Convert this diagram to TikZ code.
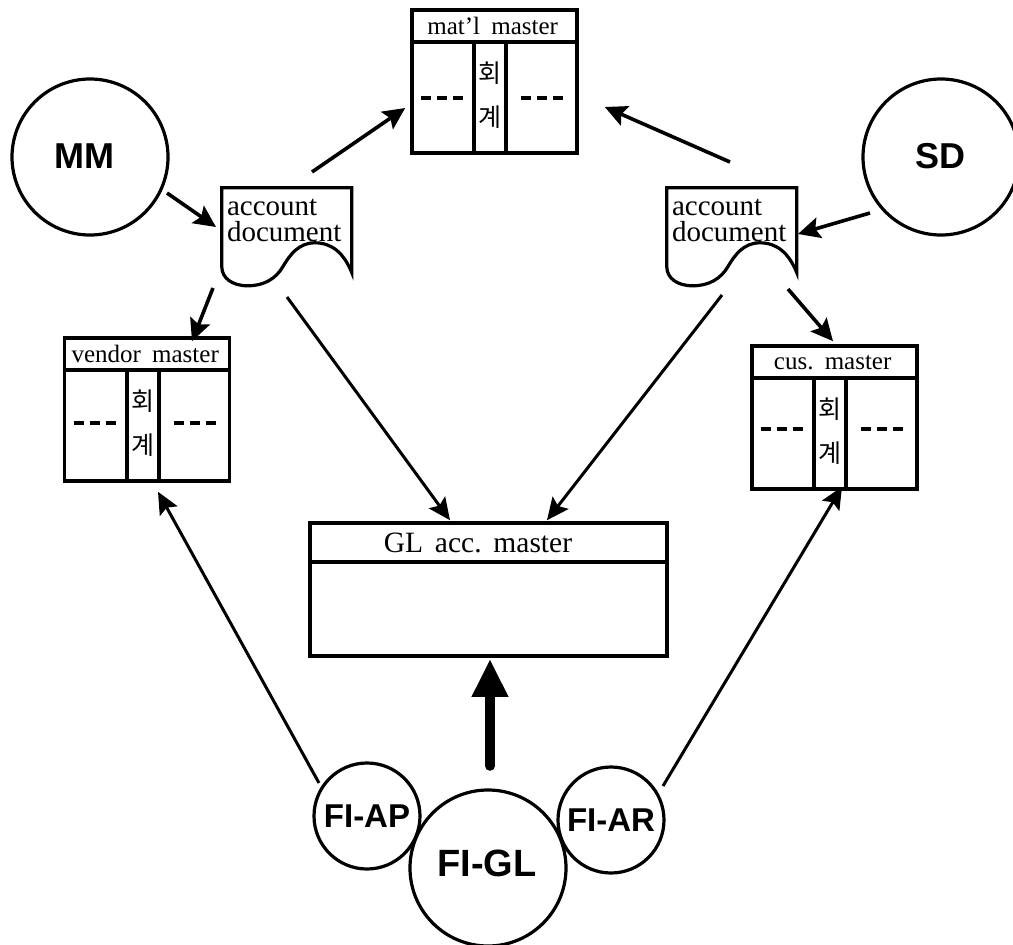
\documentclass[tikz,border=0pt]{standalone}
\usepackage{fontspec}
\setmainfont{Liberation Serif}
\newfontfamily\sansb{Liberation Sans}[BoldFont={Liberation Sans Bold}]
\newfontfamily\korean{Noto Sans CJK KR}
\usetikzlibrary{arrows.meta,calc}
\tikzset{
  masterbox/.style={draw,line width=3.6pt,inner sep=0pt,minimum width=165pt,minimum height=143pt},
  rule/.style={line width=3.6pt},
  dots/.style={line width=4.2pt,dash pattern=on 10pt off 6pt},
  circ/.style={draw,circle,line width=3.2pt,inner sep=0pt,minimum size=#1},
  heavy/.style={line width=3.6pt,-{Stealth[length=22pt,width=21pt,inset=4pt]}},
  light/.style={line width=3pt,-{Stealth[length=22pt,width=20pt,inset=4pt]}},
  title/.style={inner sep=0pt,font=\fontsize{25}{25}\selectfont},
  kor/.style={inner sep=0pt,font=\korean\fontsize{25}{25}\selectfont},
  doctext/.style={inner sep=0pt,align=left,anchor=north west,font=\fontsize{29}{26}\selectfont},
  lab/.style={inner sep=0pt,font=\sansb\bfseries\fontsize{#1}{#1}\selectfont},
}
\newcommand{\mastertable}[5]{% name, cx, cy, title, dy of dashes
  \node[masterbox] (#1) at (#2,#3) {};
  \begin{scope}[shift={(#1.north west)}]
    \draw[rule] (0,34) -- (165,34);
    \draw[rule] (64,34) -- (64,143);
    \draw[rule] (96,34) -- (96,143);
    \draw[dots] (11,#5) -- (53,#5);
    \draw[dots] (111,#5) -- (155,#5);
    \node[title] (#1title) at (82.5,18) {#4};
    \node[kor] (#1a) at (80,65) {회};
    \node[kor] (#1b) at (80,109) {계};
  \end{scope}
}
\newcommand{\docsheet}[3]{% name, cx, cy
  \node[inner sep=0pt,minimum width=130pt,minimum height=100pt] (#1) at (#2,#3) {};
  \begin{scope}[shift={(#1.north west)}]
    \draw[line width=3.2pt,line join=miter]
      (0,0) -- (130,0) -- (130,85)
      .. controls (122,65) and (110,55) .. (93,55)
      .. controls (77,55) and (68,67) .. (61,79)
      .. controls (54,91) and (42,98) .. (26,98)
      .. controls (10,98) and (0,90) .. (0,79) -- cycle;
    \node[doctext] (#1text) at (5,11) {account\\document};
  \end{scope}
}
\begin{document}
\begin{tikzpicture}[x=1pt,y=-1pt]
\useasboundingbox (0,0) rectangle (1013,945);

% circles
\node[circ=156pt] (mm) at (90,157) {};
\node[lab=36] (mmlabel) at (84.5,156) {MM};
\node[circ=156pt] (sd) at (941,157) {};
\node[lab=36] (sdlabel) at (940.5,156) {SD};
\node[circ=106pt,lab=33] (ap) at (367,816) {FI-AP};
\node[circ=106pt,lab=33] (ar) at (611,820) {FI-AR};
\node[circ=156pt,fill=white] (gl) at (488,868) {};
\node[lab=38] (gllabel) at (487,863) {FI-GL};

% master tables
\mastertable{mat}{494.5}{81.5}{mat'l\hspace{0.45em}master}{90}
\mastertable{ven}{147}{409.5}{vendor\hspace{0.45em}master}{87}
\mastertable{cus}{834.5}{417.5}{cus.\hspace{0.45em}master}{85}

% GL master
\node[draw,line width=3.6pt,inner sep=0pt,minimum width=357pt,minimum height=133pt] (glm) at (488.5,589.5) {};
\draw[rule] (glm.north west) ++(0,41) -- ++(357,0);
\node[inner sep=0pt,font=\fontsize{29.5}{29.5}\selectfont] (glmtitle) at (478,543) {GL\hspace{0.4em}acc.\hspace{0.4em}master};

% documents
\docsheet{docl}{287}{238}
\docsheet{docr}{732}{238}

% connectors
\draw[heavy] ($(mm)+(77,36)$) -- ($(docl)+(-71,-11)$);
\draw[heavy] ($(docl)+(25,-66)$) -- ($(mat.west)+(-5,26.5)$);
\draw[heavy] ($(sd)+(-71,56)$) -- ($(docr)+(66,-4)$);
\draw[heavy] ($(docr)+(-2,-76)$) -- ($(mat.east)+(26,25.5)$);
\draw[heavy] ($(docl)+(-74,50)$) -- ($(ven.north)+(45,5)$);
\draw[heavy] ($(docr)+(56,51)$) -- ($(cus.north)+(-1.5,-3)$);
\draw[light] ($(docl)+(0,59)$) -- ($(glm.north)+(-38.5,-1)$);
\draw[light] ($(docr)+(-10,57)$) -- ($(glm.north)+(58.5,-1)$);
\draw[light] ($(ap)+(-48,-33)$) -- ($(ven.south)+(11,9)$);
\draw[light] ($(ar)+(52,-34)$) -- ($(cus.south)+(7.5,-4)$);
\draw[line width=9.5pt,line cap=round,-{Triangle[length=38pt,width=34pt]}] ($(gl)+(2,-102)$) -- ($(glm.south)+(1.5,1)$);
\end{tikzpicture}
\end{document}
